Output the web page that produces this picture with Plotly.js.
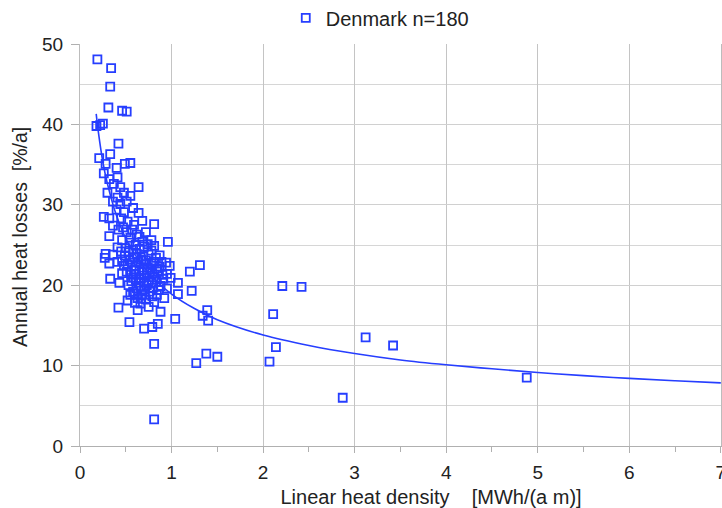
<!DOCTYPE html>
<html>
<head>
<meta charset="utf-8">
<script src="https://cdn.plot.ly/plotly-3.0.1.min.js"></script>
<style>html,body{margin:0;padding:0;background:#fff;}#chart{width:722px;height:508px;}</style>
</head>
<body>
<div id="chart"></div>
<script>
// Scatter data: linear heat density [MWh/(a m)] vs annual heat losses [%/a]
const densityX = [
  0.19,0.34,0.33,0.31,0.46,0.51,0.18,0.22,0.25,
  0.42,0.33,0.21,0.28,0.49,0.55,0.40,0.26,0.32,0.41,0.37,0.44,0.64,0.30,0.48,0.41,0.55,0.36,0.44,0.51,0.58,
  0.40,0.48,0.64,0.26,0.32,0.45,0.52,0.68,0.81,0.36,0.42,0.57,0.51,0.72,0.32,0.46,0.65,0.78,0.96,0.54,
  0.61,0.70,0.41,0.81,
  0.28,0.36,0.49,0.62,0.75,0.87,0.27,0.54,0.67,0.41,0.32,0.81,0.94,1.31,0.48,0.61,0.74,0.87,0.98,1.20,
  0.51,0.65,0.56,0.70,0.79,0.90,0.33,0.43,0.61,0.75,0.84,1.07,0.53,0.66,0.73,0.80,0.88,0.95,2.21,2.42,
  0.58,0.68,0.76,0.84,1.07,1.22,0.63,0.72,0.52,0.60,0.66,0.81,0.92,0.42,0.75,0.63,0.88,1.39,1.04,1.34,
  1.40,0.54,0.79,0.85,0.70,2.11,0.81,1.27,1.38,1.50,2.07,2.14,3.12,3.42,4.88,2.87,0.81,
  0.47,0.59,0.62,0.55,0.68,0.74,0.50,0.58,0.65,0.78,0.45,0.53,0.69,0.59,0.83,0.72,0.46,0.57,0.64,0.78,
  0.89,0.52,0.70,0.84,0.59,0.68,0.77,0.46,0.61,0.73,0.85,0.95,0.58,0.67,0.80,0.70,0.64,0.91,0.56,0.78,
  0.62,0.70,0.86,0.60,0.79,0.71,0.67,0.55,0.99
];
const heatLossY = [
  48.1,47.0,44.7,42.1,41.7,41.6,39.8,39.9,40.1,
  37.6,36.3,35.8,35.1,35.1,35.2,34.6,33.9,33.2,33.4,32.6,32.2,32.2,31.5,31.5,30.9,31.1,30.4,30.1,30.4,29.6,
  29.4,29.1,29.0,28.5,28.3,28.3,27.9,28.0,27.6,27.4,26.9,26.9,26.6,26.6,26.1,25.6,26.0,25.6,25.4,25.3,
  25.0,24.8,24.7,24.9,
  23.9,23.8,23.7,23.9,23.8,23.7,23.4,23.2,23.2,22.9,22.7,22.9,22.8,22.5,22.4,22.4,22.2,22.3,22.4,21.7,
  21.7,21.7,21.3,21.2,21.5,21.3,20.8,20.3,20.7,20.5,20.7,20.3,20.0,19.8,20.0,19.7,19.9,19.6,19.9,19.8,
  19.2,18.9,19.2,18.8,18.9,19.3,18.4,18.2,18.1,17.8,17.7,17.9,18.4,17.2,17.3,16.9,16.7,16.9,15.8,16.2,
  15.6,15.4,14.8,15.2,14.6,16.4,12.7,10.3,11.5,11.1,10.5,12.3,13.5,12.5,8.5,6.0,3.3,
  27.2,27.5,26.3,25.9,25.4,25.1,24.6,24.4,24.5,24.3,24.2,24.1,23.6,23.5,23.4,23.1,23.0,22.8,22.9,22.7,
  22.9,22.6,22.6,22.1,22.0,21.9,21.9,21.5,21.4,21.6,21.7,21.4,20.9,20.9,21.0,20.4,20.3,20.8,20.5,20.3,
  19.6,19.5,19.4,19.0,18.6,18.8,18.3,18.8,20.9
];
// Trend curve points
const trendX = [0.177,0.2,0.25,0.3,0.4,0.5,0.6,0.8,1,1.25,1.5,2,2.5,3,3.5,4,4.5,5,5.5,6,6.5,7];
const trendY = [41.3,39.1,35.3,32.6,28.6,25.8,23.8,20.9,18.9,17.1,15.7,13.8,12.5,11.5,10.7,10.1,9.6,9.14,8.75,8.41,8.12,7.85];
const seriesName = "Denmark n=180";
const xTitle = "\u200b" + "\u00a0".repeat(11) + "Linear heat density\u00a0\u00a0\u00a0\u00a0[MWh/(a m)]";
const yTitle = "\u200b\u00a0\u00a0\u00a0Annual heat losses\u00a0\u00a0[%/a]";

const blue = "rgb(38,62,255)";
const traces = [
  {
    x: trendX, y: trendY, type: "scatter", mode: "lines",
    line: {color: blue, width: 1.6, shape: "spline"},
    showlegend: false, hoverinfo: "skip"
  },
  {
    x: densityX, y: heatLossY, type: "scatter", mode: "markers",
    name: seriesName,
    marker: {symbol: "square-open", size: 8, color: blue, line: {width: 1.8, color: blue}}
  }
];
const regular = "Liberation Sans, Arial, sans-serif";
const ink = "#222";
const layout = {
  width: 722, height: 508,
  margin: {l: 80, r: 1, t: 44, b: 62, autoexpand: false},
  paper_bgcolor: "#fff", plot_bgcolor: "#fff",
  font: {family: regular, size: 16, color: ink},
  showlegend: true,
  legend: {orientation: "h", x: 0.321, xanchor: "left", y: 1.065, yanchor: "middle",
           font: {family: regular, size: 20, color: ink}, itemwidth: 30, tracegroupgap: 0},
  xaxis: {
    range: [0, 7.002], dtick: 1, tick0: 0,
    showgrid: true, gridcolor: "#c4c4c4", gridwidth: 1,
    zeroline: false, showline: true, linecolor: "#b0b0b0", linewidth: 1,
    ticks: "outside", ticklen: 6, tickcolor: "#b0b0b0",
    minor: {dtick: 0.5, ticks: "outside", ticklen: 5, tickcolor: "#b0b0b0", showgrid: false},
    ticklabelstandoff: 3, ticklabeloverflow: "allow",
    tickfont: {family: regular, size: 19, color: ink},
    title: {text: xTitle, font: {family: regular, size: 20, color: ink}, standoff: 8}
  },
  yaxis: {
    range: [0, 50], dtick: 10, tick0: 0,
    showgrid: true, gridcolor: "#d0d0d0", gridwidth: 1,
    zeroline: false, showline: true, mirror: true, linecolor: "#bcbcbc", linewidth: 1,
    ticks: "outside", ticklen: 8, tickcolor: "#b0b0b0",
    minor: {dtick: 5, showgrid: true, gridcolor: "#d6d6d6", ticks: ""},
    ticklabelstandoff: 4,
    tickfont: {family: regular, size: 19, color: ink},
    title: {text: yTitle, font: {family: regular, size: 19.5, color: ink}, standoff: 9}
  }
};
Plotly.newPlot("chart", traces, layout, {staticPlot: true, displayModeBar: false});
</script>
</body>
</html>
